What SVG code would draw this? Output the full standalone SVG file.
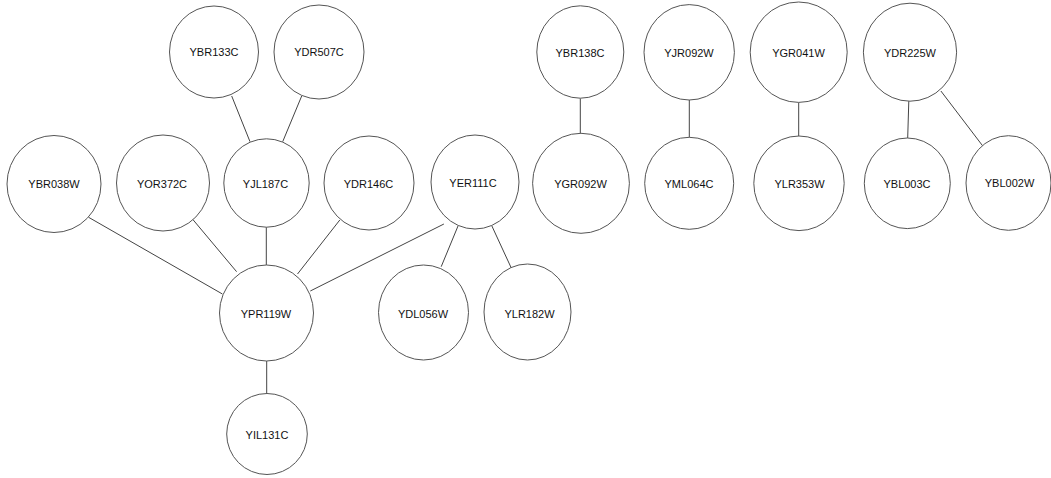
<svg xmlns="http://www.w3.org/2000/svg" width="1051" height="478" viewBox="0 0 1051 478">
<style>
.bg{fill:#ffffff}
.n ellipse{fill:#ffffff;stroke:#555555;stroke-width:1}
.n text{font-family:"Liberation Sans",Arial,sans-serif;font-size:11px;fill:#111111;text-anchor:middle;dominant-baseline:central}
.e line{stroke:#444444;stroke-width:1}
</style>
<rect class="bg" x="0" y="0" width="1051" height="478"/>
<g id="connectors" class="e">
<line x1="231.7" y1="96" x2="250" y2="141.7"/>
<line x1="301.7" y1="96" x2="282.7" y2="141.7"/>
<line x1="266.3" y1="227" x2="266.3" y2="265"/>
<line x1="88.6" y1="217.3" x2="222.4" y2="294"/>
<line x1="192.7" y1="219.3" x2="236.6" y2="271.7"/>
<line x1="339.8" y1="220" x2="297.5" y2="274"/>
<line x1="443.9" y1="224" x2="310.3" y2="291"/>
<line x1="458" y1="226" x2="441.2" y2="266.7"/>
<line x1="491.9" y1="226" x2="512.2" y2="270"/>
<line x1="266.7" y1="361" x2="266.7" y2="393.5"/>
<line x1="580.3" y1="98.3" x2="580.3" y2="133.3"/>
<line x1="689.3" y1="100" x2="689.3" y2="137.3"/>
<line x1="798.7" y1="102.3" x2="798.7" y2="136"/>
<line x1="908.8" y1="101" x2="907.7" y2="138"/>
<line x1="940.9" y1="91" x2="983.3" y2="146.7"/>
</g>
<g id="YBR133C" class="n"><ellipse cx="214" cy="52" rx="44.5" ry="46"/><text x="214" y="52">YBR133C</text></g>
<g id="YDR507C" class="n"><ellipse cx="319" cy="52" rx="45" ry="47"/><text x="319" y="52">YDR507C</text></g>
<g id="YBR038W" class="n"><ellipse cx="54" cy="184" rx="47" ry="48.5"/><text x="54" y="183.5">YBR038W</text></g>
<g id="YOR372C" class="n"><ellipse cx="163" cy="183" rx="46.5" ry="48"/><text x="162" y="183.5">YOR372C</text></g>
<g id="YJL187C" class="n"><ellipse cx="266.5" cy="183" rx="42.7" ry="44.2"/><text x="265.5" y="183.5">YJL187C</text></g>
<g id="YDR146C" class="n"><ellipse cx="369" cy="183" rx="45" ry="47"/><text x="368.5" y="183.5">YDR146C</text></g>
<g id="YER111C" class="n"><ellipse cx="475" cy="182" rx="44" ry="47"/><text x="473" y="183">YER111C</text></g>
<g id="YPR119W" class="n"><ellipse cx="266.5" cy="313" rx="47" ry="48"/><text x="266" y="313.5">YPR119W</text></g>
<g id="YDL056W" class="n"><ellipse cx="423.5" cy="312.5" rx="45" ry="47.5"/><text x="423" y="313.5">YDL056W</text></g>
<g id="YLR182W" class="n"><ellipse cx="527.5" cy="312" rx="43.5" ry="48"/><text x="529.5" y="313.5">YLR182W</text></g>
<g id="YIL131C" class="n"><ellipse cx="267" cy="434" rx="40.3" ry="40.5"/><text x="267" y="434.5">YIL131C</text></g>
<g id="YBR138C" class="n"><ellipse cx="580.3" cy="52" rx="43.5" ry="46.2"/><text x="580" y="52.5">YBR138C</text></g>
<g id="YGR092W" class="n"><ellipse cx="581" cy="183.3" rx="48.4" ry="50"/><text x="580.5" y="183.5">YGR092W</text></g>
<g id="YJR092W" class="n"><ellipse cx="689.2" cy="52.3" rx="45.2" ry="47.7"/><text x="689" y="52.5">YJR092W</text></g>
<g id="YML064C" class="n"><ellipse cx="689.2" cy="183.3" rx="44.5" ry="46"/><text x="689" y="183.5">YML064C</text></g>
<g id="YGR041W" class="n"><ellipse cx="798.7" cy="52.2" rx="48.5" ry="50.2"/><text x="798.5" y="52.5">YGR041W</text></g>
<g id="YLR353W" class="n"><ellipse cx="799" cy="183.3" rx="45.2" ry="47.3"/><text x="799.5" y="183.5">YLR353W</text></g>
<g id="YDR225W" class="n"><ellipse cx="910" cy="52.2" rx="46.6" ry="49"/><text x="910" y="52.5">YDR225W</text></g>
<g id="YBL003C" class="n"><ellipse cx="907.3" cy="183.3" rx="43" ry="45.3"/><text x="907" y="183.5">YBL003C</text></g>
<g id="YBL002W" class="n"><ellipse cx="1008.5" cy="183" rx="42.5" ry="47.3"/><text x="1009.5" y="183">YBL002W</text></g>
</svg>
